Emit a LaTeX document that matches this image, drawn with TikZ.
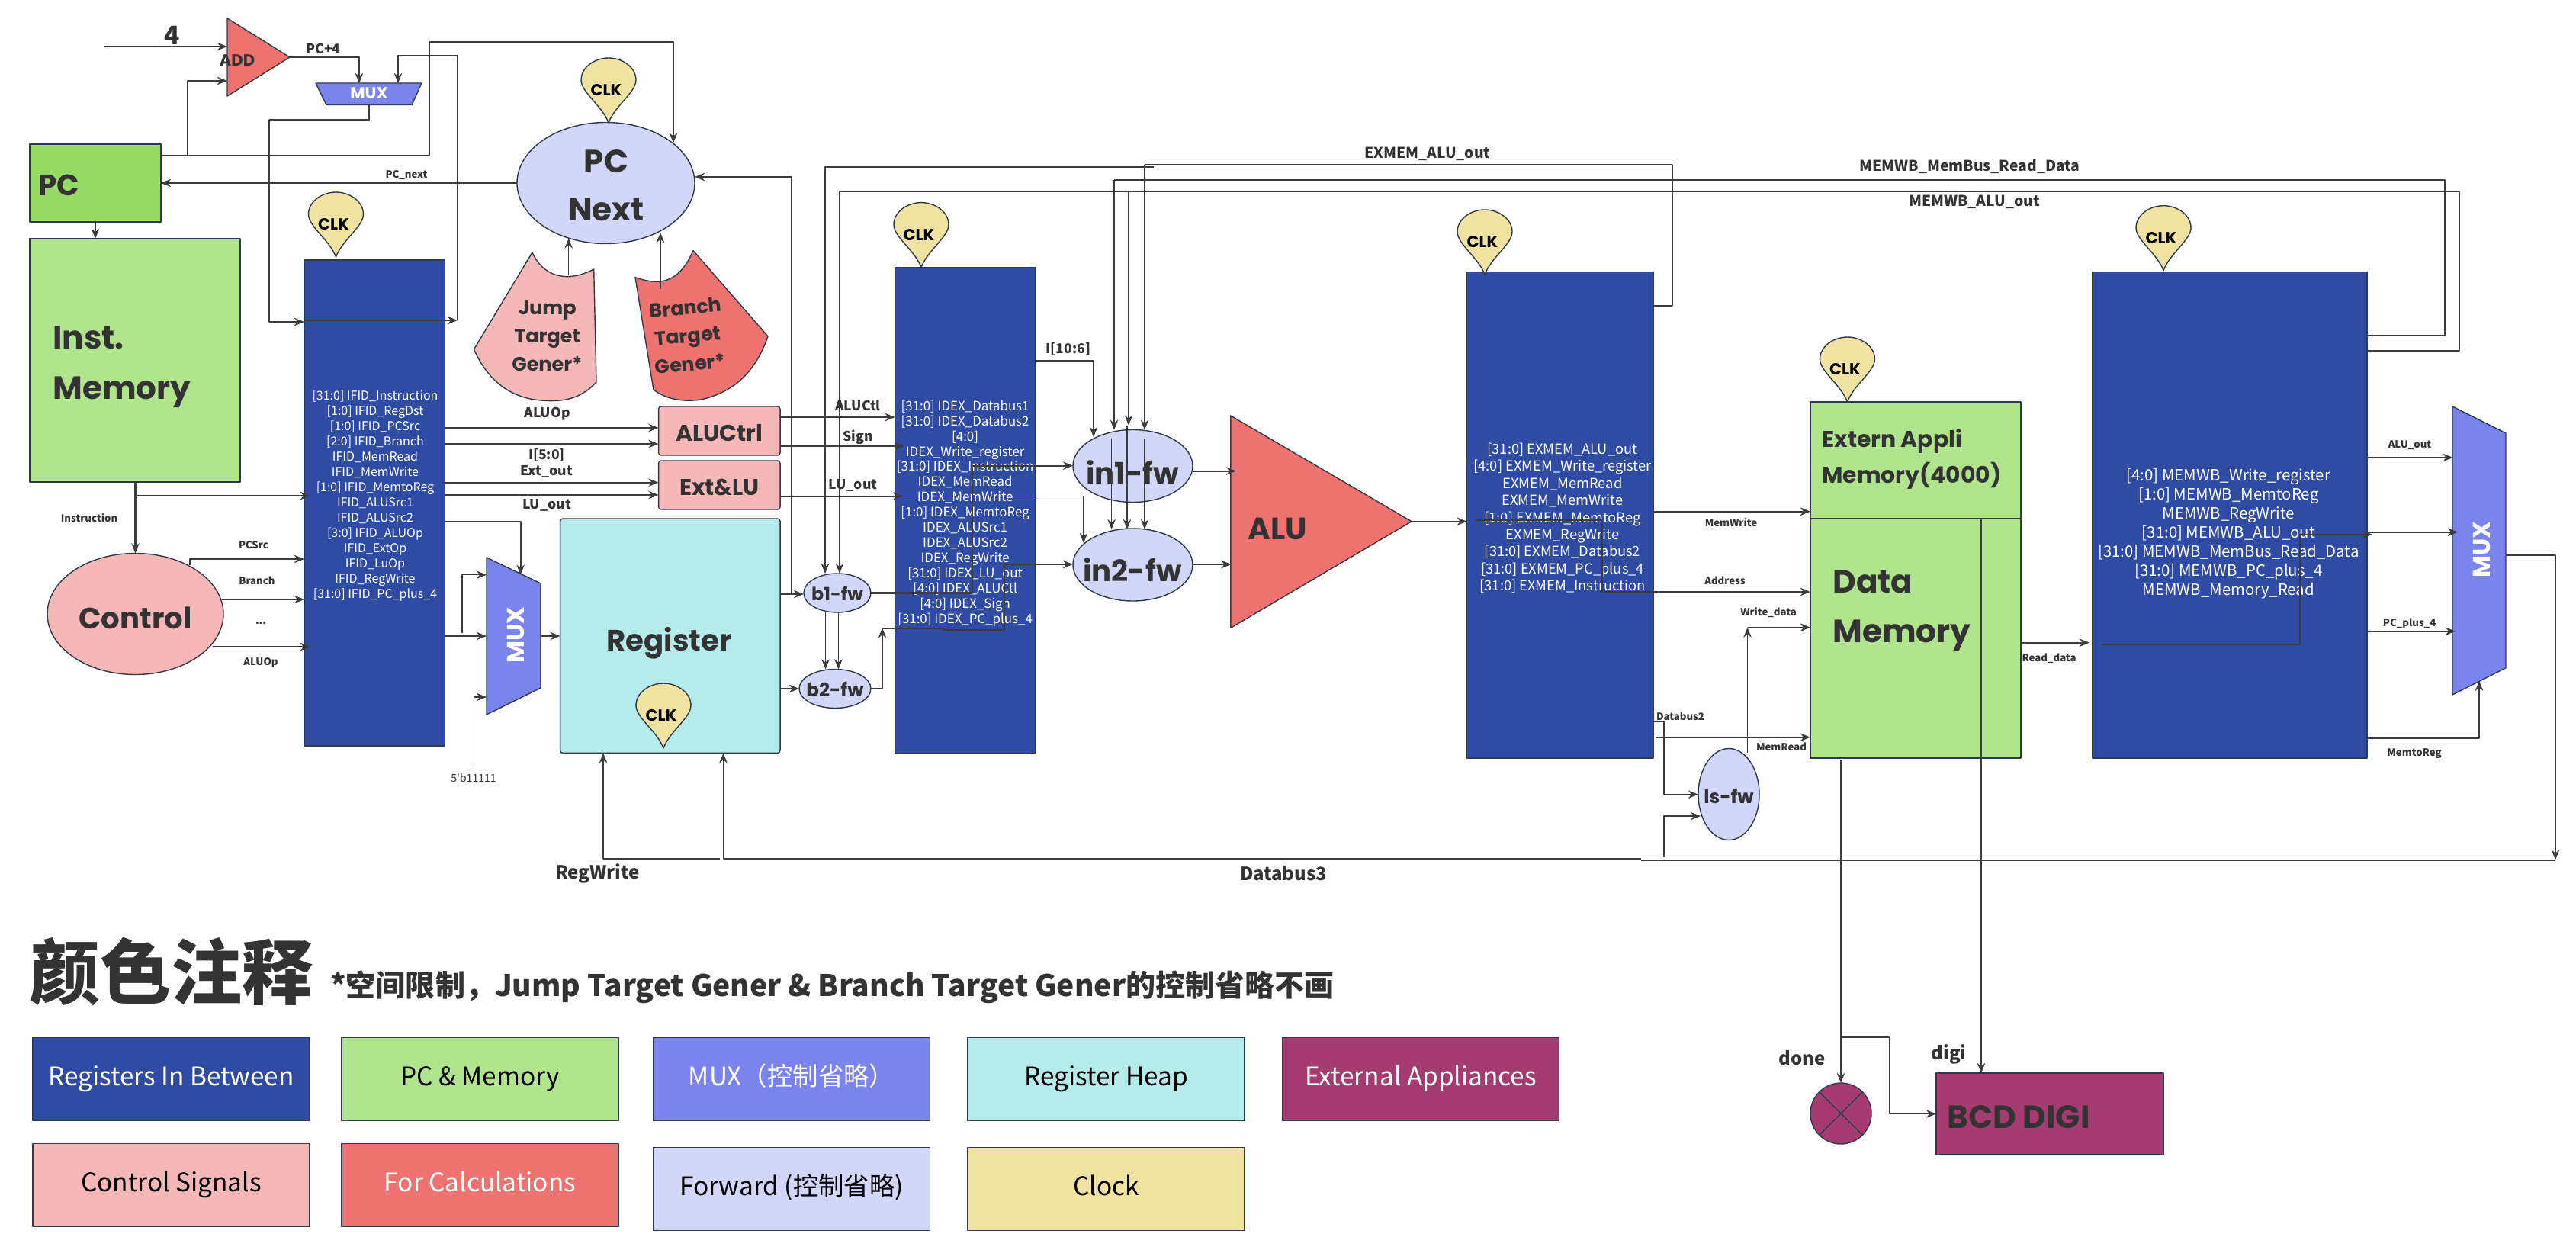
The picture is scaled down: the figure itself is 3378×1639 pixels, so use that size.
\documentclass[tikz,border=0pt]{standalone}
\usepackage{fontspec}
\usetikzlibrary{shapes.geometric,arrows.meta}
\setmainfont{Noto Sans CJK SC}
\newfontfamily\plainfont{Noto Sans CJK SC}
\newfontfamily\deco{Poppins}
\definecolor{inkcol}{HTML}{333333}
\definecolor{wirecol}{HTML}{3C3C3C}
\definecolor{edgecol}{HTML}{2E3A4A}
\definecolor{regcol}{HTML}{304BA3}
\definecolor{pccol}{HTML}{96DB66}
\definecolor{memcol}{HTML}{B0E58E}
\definecolor{muxcol}{HTML}{7B84EC}
\definecolor{heapcol}{HTML}{B6EBEB}
\definecolor{extcol}{HTML}{A43B71}
\definecolor{ctlcol}{HTML}{F5B7B7}
\definecolor{calccol}{HTML}{EE7270}
\definecolor{fwcol}{HTML}{D2D6F8}
\definecolor{clkcol}{HTML}{F0E3A2}
\def\clkdrop#1#2#3{
	\draw[clkshape] (#2,#3) .. controls (#2-8,#3-22) and (#2-36,#3-40) .. (#2-36,#3-56) .. controls (#2-36,#3-73) and (#2-18,#3-85) .. (#2,#3-85) .. controls (#2+18,#3-85) and (#2+36,#3-73) .. (#2+36,#3-56) .. controls (#2+36,#3-40) and (#2+8,#3-22) .. (#2,#3) -- cycle;
	\node[deco={12}{14},text=black] (#1) at (#2-3,#3-43) {CLK};
}
\begin{document}
\begin{tikzpicture}[>={Stealth[length=7.5pt,width=6pt]},line join=round,x=0.02cm,y=-0.02cm,
	wh/.style 2 args={minimum width=#1*0.02cm,minimum height=#2*0.02cm,inner sep=0pt,outer sep=0pt},
	wire/.style={draw=wirecol,line width=1.15pt},
	thin wire/.style={draw=wirecol,line width=0.8pt},
	shapeline/.style={draw=edgecol,line width=0.8pt},
	regbox/.style={shapeline,fill=regcol},
	membox/.style={shapeline,fill=memcol},
	ctlbox/.style={shapeline,fill=ctlcol,rounded corners=2pt},
	fwnode/.style={shapeline,fill=fwcol,ellipse},
	muxshape/.style={shapeline,fill=muxcol},
	calcshape/.style={shapeline,fill=calccol},
	clkshape/.style={shapeline,fill=clkcol},
	legend/.style={shapeline,wh={363}{109},text height=0.93em,text depth=0pt,font=\fontsize{19}{23}\selectfont},
	deco/.style 2 args={font=\deco\bfseries\fontsize{#1}{#2}\selectfont,text=inkcol,inner sep=0pt},
	regtext/.style 2 args={text=white,align=center,inner sep=0pt,font=\fontsize{#1}{#2}\selectfont},
	sigs/.style={text=inkcol,inner sep=0pt,font=\bfseries\fontsize{7.5}{9}\selectfont},
	sigm/.style={text=inkcol,inner sep=0pt,font=\bfseries\fontsize{10}{12}\selectfont},
	sigl/.style={text=inkcol,inner sep=0pt,font=\bfseries\fontsize{11}{13}\selectfont},
	sigx/.style={text=inkcol,inner sep=0pt,font=\bfseries\fontsize{13.6}{16}\selectfont}]
	\useasboundingbox (0,0) rectangle (3378,1639);
	\node[wh={172}{102},shapeline,fill=pccol] (pc) at (125,240) {};
	\node[wh={276}{319},membox] (instmem) at (177,472.5) {};
	\node[ellipse,wh={231}{159},shapeline,fill=ctlcol] (control) at (177.5,805) {};
	\node[wh={184.6}{637},regbox] (ifid) at (491.3,659.5) {};
	\node[wh={184.3}{637.1},regbox] (idex) at (1265.8,669.15) {};
	\node[wh={244.3}{637.3},regbox] (exmem) at (2045.8,675.35) {};
	\node[wh={360}{637.3},regbox] (memwb) at (2924,675.35) {};
	\node[ellipse,wh={233}{159},shapeline,fill=fwcol] (pcnext) at (794.5,240) {};
	\node[wh={159.5}{64},ctlbox] (aluctrl) at (943.3,565) {};
	\node[wh={159.5}{64},ctlbox] (extlu) at (943.3,636) {};
	\node[wh={288.5}{307.4},shapeline,fill=heapcol,rounded corners=2pt] (regheap) at (878.8,833.7) {};
	\node[wh={88}{51},fwnode] (bfwa) at (1098,777.5) {};
	\node[wh={94}{51},fwnode] (bfwb) at (1095,903) {};
	\node[wh={157}{95},fwnode] (infwa) at (1485.5,611) {};
	\node[wh={157}{95},fwnode] (infwb) at (1485.5,740.5) {};
	\node[wh={80}{120},fwnode] (lsfw) at (2267,1041.5) {};
	\node[wh={276}{153},membox] (extmem) at (2512,603.5) {};
	\node[wh={276}{314},membox] (datamem) at (2512,837) {};
	\node[wh={298}{107},shapeline,fill=extcol] (bcd) at (2688,1460.5) {};
	\node[ellipse,wh={80}{80},shapeline,fill=extcol] (done) at (2414,1460) {};
	\draw[line width=0.8pt,draw=edgecol] (done.north west) -- (done.south east) (done.north east) -- (done.south west);
	\draw[calcshape] (298,24) -- (380,75) -- (298,126) -- cycle;
	\draw[muxshape] (414,109) -- (553,109) -- (540,137.5) -- (428,137.5) -- cycle;
	\draw[muxshape] (638,731) -- (709,765) -- (709,902) -- (638,937) -- cycle;
	\draw[calcshape] (1613.8,545) -- (1851,683.7) -- (1613.8,823.3) -- cycle;
	\draw[muxshape] (3216,533) -- (3286,568) -- (3286,875.7) -- (3216,911) -- cycle;
	\draw[shapeline,fill=ctlcol] (698,331) .. controls (712,362) and (742,372) .. (778.7,353) -- (782,501) .. controls (760,525) and (735,527) .. (710,525) .. controls (670,522) and (640,500) .. (621.5,458) -- cycle;
	\draw[calcshape] (909,328.6) .. controls (890,372) and (865,375) .. (833,363.6) -- (857,511) .. controls (875,525) and (900,527) .. (919,524) .. controls (960,515) and (990,490) .. (1007,441) -- cycle;
	\coordinate (jumpout) at (745.7,361);
	\coordinate (branchout) at (866,379);
	\coordinate (addin) at (137,61);
	\coordinate (addout) at (380,75);
	\coordinate (muxsout) at (484,137.5);
	\coordinate (aluout) at (1851,683.7);
	\coordinate (finalout) at (3286,728.3);
	\coordinate (busthree) at (3351,1127.5);
	\coordinate (fivebits) at (621.5,1002);
	\node[deco={12}{14}] (addtext) at (311,79) {ADD};
	\node[deco={12}{14},text=white] (muxstext) at (484,122) {MUX};
	\node[deco={18}{20},text=white,rotate=90] (muxmtext) at (677,833) {MUX};
	\node[deco={18}{20},text=white,rotate=90] (muxltext) at (3254,721) {MUX};
	\node[deco={22}{26},anchor=west] (pctext) at (50,243) {PC};
	\node[deco={24}{37.5},align=left,anchor=west] (insttext) at (69,481) {Inst.\\Memory};
	\node[deco={22}{26}] (ctltext) at (177.5,810) {Control};
	\node[deco={24}{36},align=center] (pcnexttext) at (795,243) {PC\\Next};
	\node[deco={14.5}{21},align=center] (jumptext) at (717.6,441) {Jump\\Target\\Gener*};
	\node[deco={14.5}{21},align=center,rotate=5] (branchtext) at (902,440) {Branch\\Target\\Gener*};
	\node[deco={17}{20}] (aluctrltext) at (943.5,568) {ALUCtrl};
	\node[deco={17}{20}] (extlutext) at (943.5,639) {Ext\&LU};
	\node[deco={22}{26}] (regtexta) at (877.6,843) {Register};
	\node[deco={13.5}{16}] (bfwatext) at (1098,778) {b1-fw};
	\node[deco={14}{16}] (bfwbtext) at (1095,904) {b2-fw};
	\node[deco={22}{26}] (infwatext) at (1485,619) {in1-fw};
	\node[deco={22}{26}] (infwbtext) at (1485,747) {in2-fw};
	\node[deco={23}{26}] (alutext) at (1675,693.5) {ALU};
	\node[deco={14}{16}] (lsfwtext) at (2267,1044) {ls-fw};
	\node[deco={17}{26.6},align=left,anchor=west] (exttext) at (2389,602) {Extern Appli\\Memory(4000)};
	\node[deco={24}{37},align=left,anchor=west] (datatext) at (2403,801) {Data\\Memory};
	\node[deco={24}{26},anchor=west] (bcdtext) at (2553,1465) {BCD DIGI};
	\node[regtext={9.1}{11.35}] (ifidtext) at (492,650) {[31:0] IFID\_Instruction\\{}[1:0] IFID\_RegDst\\{}[1:0] IFID\_PCSrc\\{}[2:0] IFID\_Branch\\ IFID\_MemRead\\ IFID\_MemWrite\\{}[1:0] IFID\_MemtoReg\\ IFID\_ALUSrc1\\ IFID\_ALUSrc2\\{}[3:0] IFID\_ALUOp\\ IFID\_ExtOp\\ IFID\_LuOp\\ IFID\_RegWrite\\{}[31:0] IFID\_PC\_plus\_4};
	\node[regtext={9.6}{11.35}] (idextext) at (1265.6,673) {[31:0] IDEX\_Databus1\\{}[31:0] IDEX\_Databus2\\{}[4:0]\\ IDEX\_Write\_register\\{}[31:0] IDEX\_Instruction\\ IDEX\_MemRead\\ IDEX\_MemWrite\\{}[1:0] IDEX\_MemtoReg\\ IDEX\_ALUSrc1\\ IDEX\_ALUSrc2\\ IDEX\_RegWrite\\{}[31:0] IDEX\_LU\_out\\{}[4:0] IDEX\_ALUCtl\\{}[4:0] IDEX\_Sign\\{}[31:0] IDEX\_PC\_plus\_4};
	\node[regtext={10.4}{12.75}] (exmemtext) at (2049,679.4) {[31:0] EXMEM\_ALU\_out\\{}[4:0] EXMEM\_Write\_register\\ EXMEM\_MemRead\\ EXMEM\_MemWrite\\{}[1:0] EXMEM\_MemtoReg\\ EXMEM\_RegWrite\\{}[31:0] EXMEM\_Databus2\\{}[31:0] EXMEM\_PC\_plus\_4\\{}[31:0] EXMEM\_Instruction};
	\node[regtext={11.6}{14.2}] (memwbtext) at (2922.4,700) {[4:0] MEMWB\_Write\_register\\{}[1:0] MEMWB\_MemtoReg\\ MEMWB\_RegWrite\\{}[31:0] MEMWB\_ALU\_out\\{}[31:0] MEMWB\_MemBus\_Read\_Data\\{}[31:0] MEMWB\_PC\_plus\_4\\ MEMWB\_Memory\_Read};
	\clkdrop{clkpc}{798}{161}
	\clkdrop{clkifid}{440.5}{337}
	\clkdrop{clkidex}{1208}{350.6}
	\clkdrop{clkexmem}{1947}{360}
	\clkdrop{clkdata}{2422.5}{527}
	\clkdrop{clkmemwb}{2837}{354.7}
	\clkdrop{clkheap}{870}{981}
	\draw[wire,->] (addin) -- (298,61);
	\draw[wire,->] (addout) -| (471,109);
	\draw[wire,->] (pc.east |- 0,204) -- (562.6,204) |- (883,55) -- (883,187.5);
	\draw[wire,->] (246,204) |- (298,106);
	\draw[wire,->] (muxsout) |- (353,157.5) |- (ifid.west |- 0,422);
	\draw[wire,->] (ifid.west |- 0,420) -- (600,420);
	\draw[thin wire,->] (600,420) |- (522,72.5) -- (522,109);
	\draw[wire,->] (pcnext.west) -- (pc.east);
	\draw[wire,->] (125,291) -- (125,313);
	\draw[wire,->] (control.north |- instmem.south) -- (control.north);
	\draw[wire,->] (control.north |- 0,650) -- (407,650);
	\draw[thin wire,->] (jumpout) -- (jumpout |- 0,312.5);
	\draw[thin wire,->] (branchout) -- (branchout |- 0,305);
	\draw[wire,->] (249,741) |- (ifid.west |- 0,733);
	\draw[wire,->] (291,786) -- (ifid.west |- 0,786);
	\draw[wire,->] (278.5,848) -- (407,848);
	\draw[wire,->] (ifid.east |- 0,561) -- (aluctrl.west |- 0,561);
	\draw[wire,->] (ifid.east |- 0,582) -- (aluctrl.west |- 0,582);
	\draw[wire,->] (579,632.7) -- (extlu.west |- 0,632.7);
	\draw[wire,->] (ifid.east |- 0,649) -- (extlu.west |- 0,649);
	\draw[wire,->] (ifid.east |- 0,684) -| (682.6,753.7);
	\draw[wire,->] (ifid.east |- 0,834) -- (638,834);
	\draw[thin wire,->] (606,829.6) |- (638,753.7);
	\draw[thin wire,->] (fivebits) |- (638,914);
	\draw[wire,->] (709,834) -- (regheap.west |- 0,834);
	\draw[wire,->] (943.5,1126) -| (791,987.4);
	\draw[wire,->] (2152,1126) -| (948.5,987.4);
	\draw[wire] (2152,1127.5) -- (busthree);
	\draw[wire,->] (finalout) -| (busthree);
	\draw[wire,->] (regheap.east |- 0,779) -- (bfwa.west |- 0,779);
	\draw[wire,->] (1037.5,779) |- (pcnext.east |- 0,232);
	\draw[wire,->] (regheap.east |- 0,903) -- (bfwb.west |- 0,903);
	\draw[wire] (exmem.east |- 0,401) -| (2193,216) -- (1501,216);
	\draw[thin wire,->] (1501,216) -- (1501,563.7);
	\draw[thin wire,->] (1501,575) -- (1501,694);
	\draw[wire,->] (1513,219) -- (1082,219) -- (1082,752);
	\draw[wire] (memwb.east |- 0,440) -| (3206,236) -- (1461,236);
	\draw[thin wire,->] (1461,236) -- (1461,563.7);
	\draw[thin wire,->] (1457.6,575) -- (1457.6,694);
	\draw[wire] (memwb.east |- 0,459.6) -| (3225,250.6) -- (1101,250.6);
	\draw[thin wire,->] (1101,250.6) -- (1101,752);
	\draw[thin wire,->] (1480,250.6) -- (1480,557.6);
	\draw[thin wire,->] (1478,557.6) -- (1478,694);
	\draw[thin wire,->] (1082.6,803) -- (1082.6,877.5);
	\draw[thin wire,->] (1099.5,803) -- (1099.5,877.5);
	\draw[wire,->] (idex.east |- 0,473.5) -| (1434,573);
	\draw[wire,->] (1021,547) -- (idex.west |- 0,547);
	\draw[wire,->] (extlu.east |- 0,585) -- (1186,585);
	\draw[wire,->] (extlu.east |- 0,650.6) -- (1184,650.6);
	\draw[thin wire,->] (1184,650.6) -| (1421,712);
	\draw[wire,->] (bfwa.east) -| (1274.7,610.6) -- (infwa.west |- 0,610.6);
	\draw[wire,->] (bfwb.east) -| (1157,823.3);
	\draw[wire,->] (1157,824.3) -- (1237,824.3) |- (1237,826) -| (1316.8,740) -- (infwb.west |- 0,740);
	\draw[wire,->] (infwa.east |- 0,617.6) -- (1621,617.6);
	\draw[wire,->] (infwb.east |- 0,740) -- (1614.5,740);
	\draw[wire,->] (aluout) -- (exmem.west |- 0,683.7);
	\draw[wire,->] (1935,682) -| (2100.5,776) -- (datamem.west |- 0,776);
	\draw[wire,->] (exmem.east |- 0,670.7) -- (extmem.west |- 0,670.7);
	\draw[wire,->] (2171,966.7) -- (datamem.west |- 0,966.7);
	\draw[thin wire] (exmem.east |- 0,946) -| (2182,1041.7);
	\draw[wire,->] (2182,1041.7) -- (lsfw.west |- 0,1041.7);
	\draw[wire,->] (2181.5,1124) |- (2230,1070);
	\draw[thin wire,->] (2291.5,987) -- (2291.5,822.7);
	\draw[wire,->] (2291.5,822.7) -- (datamem.west |- 0,822.7);
	\draw[thin wire] (2598,680) -- (2598,994);
	\draw[thin wire,->] (2598,994) -- (bcd.north -| 2598,0);
	\draw[thin wire,->] (2414,996) -- (done.north);
	\draw[thin wire,->] (2416,1360) -| (2477.5,1460.5) -- (bcd.west);
	\draw[wire,->] (datamem.east |- 0,842.7) -- (2740,842.7);
	\draw[wire,->] (2756,845) -| (3016,700.7) -- (3110.7,700.7);
	\draw[wire,->] (memwb.east |- 0,697.7) -- (3223,697.7);
	\draw[wire,->] (memwb.east |- 0,600) -- (3216.6,600);
	\draw[wire,->] (memwb.east |- 0,827.7) -- (3220,827.7);
	\draw[wire,->] (memwb.east |- 0,967.7) -| (3251,892.7);
	\node[font=\fontsize{19}{23}\selectfont\bfseries,text=inkcol,inner sep=0pt] (fourtext) at (226,46) {4};
	\node[sigm] (lblpcfour) at (424,64) {PC+4};
	\node[sigs] (lblpcnext) at (533,230) {PC\_next};
	\node[sigs] (lblinst) at (117,679) {Instruction};
	\node[sigs] (lblpcsrc) at (332.5,715) {PCSrc};
	\node[sigs] (lblbranch) at (337,761) {Branch};
	\node[sigs] (lbldots) at (342,817) {...};
	\node[sigs] (lblaluopa) at (342,869) {ALUOp};
	\node[text=inkcol,inner sep=0pt,font=\plainfont\fontsize{8}{10}\selectfont] (lblbits) at (621,1020) {5'b11111};
	\node[sigm] (lblaluopb) at (717.6,543) {ALUOp};
	\node[sigm] (lblifive) at (717,597) {I[5:0]};
	\node[sigm] (lblextout) at (717,618) {Ext\_out};
	\node[sigm] (lbllua) at (717,662.6) {LU\_out};
	\node[sigm] (lblaluctl) at (1125,532) {ALUCtl};
	\node[sigm] (lblsign) at (1125,573) {Sign};
	\node[sigm] (lblluout) at (1118.6,636) {LU\_out};
	\node[sigm] (lbliten) at (1401,458) {I[10:6]};
	\node[sigl] (lblexmem) at (1872,202) {EXMEM\_ALU\_out};
	\node[sigl] (lblbus) at (2583,218) {MEMWB\_MemBus\_Read\_Data};
	\node[sigl] (lblwbalu) at (2589,265) {MEMWB\_ALU\_out};
	\node[sigs] (lblmemwrite) at (2270,685) {MemWrite};
	\node[sigs] (lbladdress) at (2262,761) {Address};
	\node[sigs] (lblwdata) at (2319,803) {Write\_data};
	\node[sigs] (lblmemread) at (2336,979) {MemRead};
	\node[sigs] (lbldbtwo) at (2203.5,939) {Databus2};
	\node[sigs] (lblrdata) at (2687,863) {Read\_data};
	\node[sigs] (lblaluout) at (3160,584) {ALU\_out};
	\node[sigs] (lblpcplus) at (3159.6,818) {PC\_plus\_4};
	\node[sigs] (lblmemtoreg) at (3166,988) {MemtoReg};
	\node[sigx] (lblregwrite) at (783.6,1145) {RegWrite};
	\node[sigx] (lbldbthree) at (1683,1145) {Databus3};
	\node[sigx] (lbldone) at (2363,1387) {done};
	\node[sigx] (lbldigi) at (2555.6,1382) {digi};
	\node[text=inkcol,inner sep=0pt,anchor=west,font=\bfseries\fontsize{53}{60}\selectfont] (title) at (38,1274) {颜色注释};
	\node[text=inkcol,inner sep=0pt,anchor=west,font=\bfseries\fontsize{22.2}{28}\selectfont] (subtitle) at (433,1294) {*空间限制，Jump Target Gener \& Branch Target Gener的控制省略不画};
	\node[legend,fill=regcol,text=white] (legreg) at (224.5,1415) {Registers In Between};
	\node[legend,fill=memcol,text=black] (legmem) at (629.5,1415) {PC \& Memory};
	\node[legend,fill=muxcol,text=white] (legmux) at (1038,1415) {MUX（控制省略）};
	\node[legend,fill=heapcol,text=black] (legheap) at (1450.5,1415) {Register Heap};
	\node[legend,fill=extcol,text=white] (legext) at (1863,1415) {External Appliances};
	\node[legend,fill=ctlcol,text=black] (legctl) at (224.5,1554) {Control Signals};
	\node[legend,fill=calccol,text=white] (legcalc) at (629.5,1554) {For Calculations};
	\node[legend,fill=fwcol,text=black] (legfw) at (1038,1559) {Forward (控制省略)};
	\node[legend,fill=clkcol,text=black] (legclk) at (1450.5,1559) {Clock};
\end{tikzpicture}
\end{document}
